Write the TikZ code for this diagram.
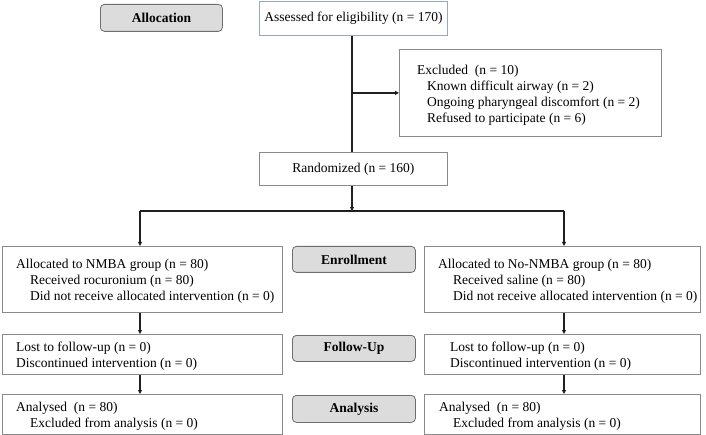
\documentclass[tikz,border=0pt]{standalone}
\usepackage{fontspec}
\setmainfont{Liberation Serif}
\usetikzlibrary{arrows.meta}
\definecolor{boxgray}{HTML}{8A8A8A}
\definecolor{assessblue}{HTML}{9AA8BE}
\definecolor{stagegray}{HTML}{6E6E6E}
\definecolor{stagefill}{HTML}{DCDCDC}
\definecolor{linecol}{HTML}{202020}
\newcommand{\ind}[1]{\hspace*{#1pt}}
\begin{document}
\begin{tikzpicture}[x=1pt,y=-1pt,
  every node/.style={font=\fontsize{13.5}{16}\selectfont},
  box/.style={draw=boxgray, line width=0.8pt, anchor=north west, inner sep=0pt},
  txt/.style={anchor=west, align=left, inner sep=0pt},
  cbox/.style={draw=boxgray, line width=0.8pt, anchor=north west, align=center, inner sep=0pt},
  stage/.style={draw=stagegray, fill=stagefill, rounded corners=4pt,
    font=\bfseries\fontsize{13.5}{16}\selectfont, anchor=north west, inner sep=0pt, line width=0.8pt},
  ln/.style={line width=1.3pt, draw=linecol},
  arr/.style={ln, -{Triangle[length=4pt,width=4pt]}}]
\fill[white] (0,0) rectangle (706,435);
\useasboundingbox (0,0) rectangle (706,435);

% stage labels
\node[stage, minimum width=122pt, minimum height=27pt] (sAlloc) at (100,4) {Allocation};
\node[stage, minimum width=123pt, minimum height=26pt] (sEnrol) at (292,246) {Enrollment};
\node[stage, minimum width=123pt, minimum height=26pt] (sFollow) at (292,335) {Follow-Up};
\node[stage, minimum width=123pt, minimum height=27pt] (sAnal) at (292,395) {Analysis};

% top boxes
\node[cbox, draw=assessblue, minimum width=188pt, minimum height=34pt] (A) at (259,1)
  {Assessed for eligibility (n = 170)};
\node[box, minimum width=262pt, minimum height=87pt] (Ex) at (399,49) {};
\node[txt] (ExT) at ([xshift=18pt,yshift=-2.5pt]Ex.west)
  {Excluded\ \ (n = 10)\\
   \ind{10}Known difficult airway (n = 2)\\
   \ind{10}Ongoing pharyngeal discomfort (n = 2)\\
   \ind{10}Refused to participate (n = 6)};
\node[cbox, minimum width=188pt, minimum height=33pt] (R) at (259,152)
  {Randomized (n = 160)};

% left column
\node[box, minimum width=280pt, minimum height=66pt] (N) at (2,246) {};
\node[txt] (NT) at ([xshift=14pt,yshift=-2pt]N.west)
  {Allocated to NMBA group (n = 80)\\
   \ind{14}Received rocuronium (n = 80)\\
   \ind{14}Did not receive allocated intervention (n = 0)};
\node[box, minimum width=280pt, minimum height=40pt] (F1) at (2,334) {};
\node[txt] (F1T) at ([xshift=14pt,yshift=-2pt]F1.west)
  {Lost to follow-up (n = 0)\\
   Discontinued intervention (n = 0)};
\node[box, minimum width=280pt, minimum height=40pt] (An1) at (2,394) {};
\node[txt] (An1T) at ([xshift=14pt,yshift=-2pt]An1.west)
  {Analysed\ \ (n = 80)\\
   \ind{14}Excluded from analysis (n = 0)};

% right column
\node[box, minimum width=276pt, minimum height=66pt] (NN) at (424,246) {};
\node[txt] (NNT) at ([xshift=14pt,yshift=-2pt]NN.west)
  {Allocated to No-NMBA group (n = 80)\\
   \ind{15}Received saline (n = 80)\\
   \ind{15}Did not receive allocated intervention (n = 0)};
\node[box, minimum width=276pt, minimum height=40pt] (F2) at (424,334) {};
\node[txt] (F2T) at ([xshift=26pt,yshift=-2pt]F2.west)
  {Lost to follow-up (n = 0)\\
   Discontinued intervention (n = 0)};
\node[box, minimum width=276pt, minimum height=40pt] (An2) at (424,394) {};
\node[txt] (An2T) at ([xshift=15pt,yshift=-2pt]An2.west)
  {Analysed\ \ (n = 80)\\
   \ind{14}Excluded from analysis (n = 0)};

% connectors
\coordinate (bm) at (352,211);
\coordinate (bl) at (140,211);
\coordinate (br) at (564,211);
\coordinate (exj) at (bm |- Ex.west);
\draw[ln] (A.south -| bm) -- (R.north -| bm);
\draw[arr] (exj) -- (Ex.west);
\draw[arr] (R.south -| bm) -- (bm);
\draw[ln] (bl) -- (br);
\draw[arr] (bl) -- (bl |- N.north);
\draw[arr] (br) -- (br |- NN.north);
\draw[arr] (N.south -| bl) -- (F1.north -| bl);
\draw[arr] (F1.south -| bl) -- (An1.north -| bl);
\draw[arr] (NN.south -| br) -- (F2.north -| br);
\draw[arr] (F2.south -| br) -- (An2.north -| br);
\end{tikzpicture}
\end{document}
